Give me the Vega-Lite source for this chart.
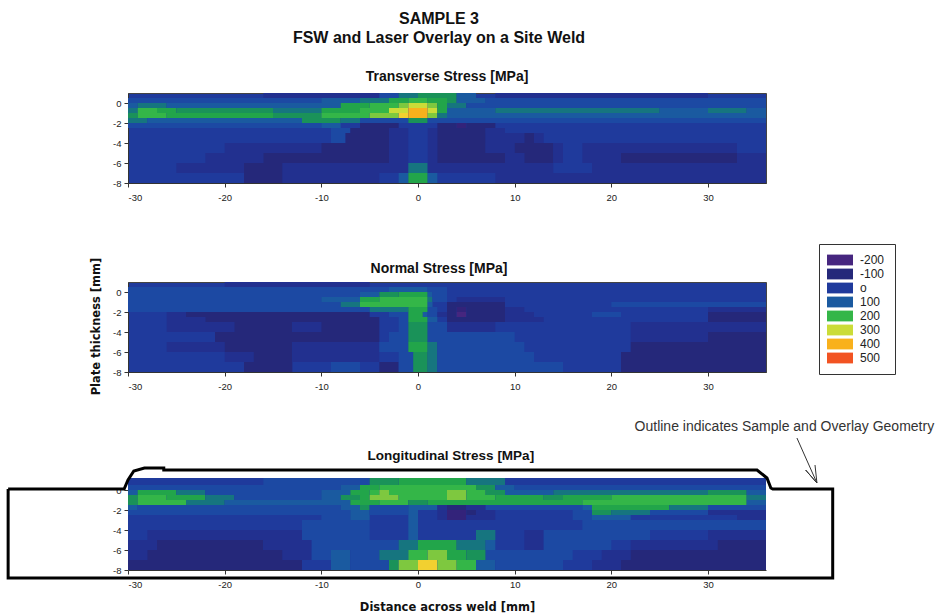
{"$schema":"https://vega.github.io/schema/vega-lite/v6.json","background":"white","padding":{"left":2,"top":10,"right":0,"bottom":30},"title":{"text":["SAMPLE 3","FSW and Laser Overlay on a Site Weld"],"font":"Liberation Sans","fontSize":16,"fontWeight":"bold","color":"#111","anchor":"middle","frame":"group","dx":-8,"offset":24,"lineHeight":19},"config":{"font":"Liberation Sans","view":{"fill":"#1f3a9c","stroke":"#444"},"title":{"font":"Liberation Sans","fontSize":14,"fontWeight":"bold","color":"#111"},"axis":{"labelFont":"Liberation Sans","labelFontSize":9.5,"labelColor":"#222","tickColor":"#333","domainColor":"#333","tickSize":4,"grid":false,"labelPadding":5,"labelOverlap":false,"labelExpr":"'' + datum.value"}},"resolve":{"scale":{"color":"independent"}},"bounds":"flush","spacing":99,"vconcat":[{"width":638,"height":90,"title":{"text":"Transverse Stress [MPa]","offset":9},"data":{"values":[{"x0":-16,"x1":-4,"y0":0.5,"y1":1,"v":-50},{"x0":-4,"x1":-2,"y0":0.5,"y1":1,"v":50},{"x0":-2,"x1":0,"y0":0.5,"y1":1,"v":125},{"x0":0,"x1":4,"y0":0.5,"y1":1,"v":150},{"x0":4,"x1":6,"y0":0.5,"y1":1,"v":100},{"x0":8,"x1":30,"y0":0.5,"y1":1,"v":-50},{"x0":-30,"x1":-10,"y0":0,"y1":0.5,"v":50},{"x0":-10,"x1":-6,"y0":0,"y1":0.5,"v":100},{"x0":-6,"x1":-3,"y0":0,"y1":0.5,"v":125},{"x0":-3,"x1":-1,"y0":0,"y1":0.5,"v":175},{"x0":-1,"x1":1,"y0":0,"y1":0.5,"v":200},{"x0":1,"x1":3,"y0":0,"y1":0.5,"v":175},{"x0":3,"x1":4,"y0":0,"y1":0.5,"v":150},{"x0":4,"x1":7,"y0":0,"y1":0.5,"v":100},{"x0":7,"x1":36,"y0":0,"y1":0.5,"v":50},{"x0":-30,"x1":-29,"y0":-0.5,"y1":0,"v":100},{"x0":-29,"x1":-26,"y0":-0.5,"y1":0,"v":125},{"x0":-26,"x1":-8,"y0":-0.5,"y1":0,"v":100},{"x0":-8,"x1":-5,"y0":-0.5,"y1":0,"v":175},{"x0":-5,"x1":-2,"y0":-0.5,"y1":0,"v":200},{"x0":-2,"x1":-1,"y0":-0.5,"y1":0,"v":250},{"x0":-1,"x1":1,"y0":-0.5,"y1":0,"v":300},{"x0":1,"x1":2,"y0":-0.5,"y1":0,"v":250},{"x0":2,"x1":3,"y0":-0.5,"y1":0,"v":175},{"x0":3,"x1":5,"y0":-0.5,"y1":0,"v":125},{"x0":5,"x1":36,"y0":-0.5,"y1":0,"v":50},{"x0":-30,"x1":-29,"y0":-1,"y1":-0.5,"v":125},{"x0":-29,"x1":-27,"y0":-1,"y1":-0.5,"v":200},{"x0":-27,"x1":-25,"y0":-1,"y1":-0.5,"v":175},{"x0":-25,"x1":-15,"y0":-1,"y1":-0.5,"v":150},{"x0":-15,"x1":-10,"y0":-1,"y1":-0.5,"v":125},{"x0":-10,"x1":-6,"y0":-1,"y1":-0.5,"v":175},{"x0":-6,"x1":-3,"y0":-1,"y1":-0.5,"v":200},{"x0":-3,"x1":-1,"y0":-1,"y1":-0.5,"v":300},{"x0":-1,"x1":1,"y0":-1,"y1":-0.5,"v":400},{"x0":1,"x1":2,"y0":-1,"y1":-0.5,"v":300},{"x0":2,"x1":3,"y0":-1,"y1":-0.5,"v":175},{"x0":3,"x1":8,"y0":-1,"y1":-0.5,"v":100},{"x0":8,"x1":25,"y0":-1,"y1":-0.5,"v":125},{"x0":25,"x1":30,"y0":-1,"y1":-0.5,"v":100},{"x0":30,"x1":34,"y0":-1,"y1":-0.5,"v":125},{"x0":34,"x1":36,"y0":-1,"y1":-0.5,"v":100},{"x0":-30,"x1":-29,"y0":-1.5,"y1":-1,"v":150},{"x0":-29,"x1":-26,"y0":-1.5,"y1":-1,"v":200},{"x0":-26,"x1":-15,"y0":-1.5,"y1":-1,"v":175},{"x0":-15,"x1":-10,"y0":-1.5,"y1":-1,"v":150},{"x0":-10,"x1":-5,"y0":-1.5,"y1":-1,"v":200},{"x0":-5,"x1":-2,"y0":-1.5,"y1":-1,"v":250},{"x0":-2,"x1":-1,"y0":-1.5,"y1":-1,"v":350},{"x0":-1,"x1":1,"y0":-1.5,"y1":-1,"v":400},{"x0":1,"x1":2,"y0":-1.5,"y1":-1,"v":250},{"x0":2,"x1":3,"y0":-1.5,"y1":-1,"v":125},{"x0":3,"x1":36,"y0":-1.5,"y1":-1,"v":100},{"x0":-30,"x1":-28,"y0":-2,"y1":-1.5,"v":125},{"x0":-28,"x1":-12,"y0":-2,"y1":-1.5,"v":100},{"x0":-12,"x1":-8,"y0":-2,"y1":-1.5,"v":150},{"x0":-8,"x1":-6,"y0":-2,"y1":-1.5,"v":125},{"x0":-6,"x1":-1,"y0":-2,"y1":-1.5,"v":50},{"x0":-1,"x1":1,"y0":-2,"y1":-1.5,"v":150},{"x0":1,"x1":36,"y0":-2,"y1":-1.5,"v":50},{"x0":-30,"x1":-10,"y0":-2.5,"y1":-2,"v":50},{"x0":-10,"x1":-8,"y0":-2.5,"y1":-2,"v":100},{"x0":-6,"x1":-2,"y0":-2.5,"y1":-2,"v":-100},{"x0":2,"x1":4,"y0":-2.5,"y1":-2,"v":-100},{"x0":4,"x1":5,"y0":-2.5,"y1":-2,"v":-150},{"x0":5,"x1":8,"y0":-2.5,"y1":-2,"v":-100},{"x0":-9,"x1":-7,"y0":-3,"y1":-2.5,"v":50},{"x0":-7,"x1":-3,"y0":-3,"y1":-2.5,"v":-100},{"x0":-3,"x1":-1,"y0":-3,"y1":-2.5,"v":-50},{"x0":1,"x1":2,"y0":-3,"y1":-2.5,"v":-50},{"x0":2,"x1":7,"y0":-3,"y1":-2.5,"v":-100},{"x0":7,"x1":9,"y0":-3,"y1":-2.5,"v":-50},{"x0":-9,"x1":-7.5,"y0":-4,"y1":-3,"v":50},{"x0":-7.5,"x1":-3,"y0":-4,"y1":-3,"v":-100},{"x0":-3,"x1":-1,"y0":-4,"y1":-3,"v":-50},{"x0":1,"x1":2,"y0":-4,"y1":-3,"v":-50},{"x0":2,"x1":7,"y0":-4,"y1":-3,"v":-100},{"x0":7,"x1":11,"y0":-4,"y1":-3,"v":-50},{"x0":11,"x1":12,"y0":-4,"y1":-3,"v":-100},{"x0":12,"x1":13,"y0":-4,"y1":-3,"v":-50},{"x0":-20,"x1":-10,"y0":-5,"y1":-4,"v":-50},{"x0":-10,"x1":-3,"y0":-5,"y1":-4,"v":-100},{"x0":-3,"x1":-1,"y0":-5,"y1":-4,"v":-50},{"x0":1,"x1":2,"y0":-5,"y1":-4,"v":-50},{"x0":2,"x1":7,"y0":-5,"y1":-4,"v":-100},{"x0":7,"x1":10,"y0":-5,"y1":-4,"v":-50},{"x0":10,"x1":14,"y0":-5,"y1":-4,"v":-100},{"x0":14,"x1":15,"y0":-5,"y1":-4,"v":-50},{"x0":17,"x1":33,"y0":-5,"y1":-4,"v":-50},{"x0":-22,"x1":-16,"y0":-6,"y1":-5,"v":-50},{"x0":-16,"x1":-3,"y0":-6,"y1":-5,"v":-100},{"x0":-3,"x1":-1,"y0":-6,"y1":-5,"v":-50},{"x0":1,"x1":2,"y0":-6,"y1":-5,"v":-50},{"x0":2,"x1":9,"y0":-6,"y1":-5,"v":-100},{"x0":9,"x1":11,"y0":-6,"y1":-5,"v":-50},{"x0":11,"x1":14,"y0":-6,"y1":-5,"v":-100},{"x0":14,"x1":15,"y0":-6,"y1":-5,"v":-50},{"x0":17,"x1":21,"y0":-6,"y1":-5,"v":-50},{"x0":21,"x1":33,"y0":-6,"y1":-5,"v":-100},{"x0":33,"x1":36,"y0":-6,"y1":-5,"v":-50},{"x0":-25,"x1":-18,"y0":-7,"y1":-6,"v":-50},{"x0":-18,"x1":-14,"y0":-7,"y1":-6,"v":-100},{"x0":-14,"x1":-1,"y0":-7,"y1":-6,"v":-50},{"x0":-1,"x1":1,"y0":-7,"y1":-6,"v":125},{"x0":1,"x1":14,"y0":-7,"y1":-6,"v":-50},{"x0":18,"x1":36,"y0":-7,"y1":-6,"v":-50},{"x0":-18,"x1":-14,"y0":-8,"y1":-7,"v":-100},{"x0":-14,"x1":-4,"y0":-8,"y1":-7,"v":-50},{"x0":-2,"x1":-1,"y0":-8,"y1":-7,"v":100},{"x0":-1,"x1":1,"y0":-8,"y1":-7,"v":175},{"x0":1,"x1":2,"y0":-8,"y1":-7,"v":100},{"x0":8,"x1":36,"y0":-8,"y1":-7,"v":-50}]},"mark":{"type":"rect"},"encoding":{"x":{"field":"x0","type":"quantitative","title":null,"scale":{"domain":[-30,36],"nice":false},"axis":{"values":[-30,-20,-10,0,10,20,30]}},"x2":{"field":"x1"},"y":{"field":"y0","type":"quantitative","title":null,"scale":{"domain":[-8,1],"nice":false,"zero":false},"axis":{"values":[0,-2,-4,-6,-8],"labelPadding":3}},"y2":{"field":"y1"},"color":{"field":"v","type":"ordinal","legend":null,"scale":{"domain":[-200,-150,-100,-50,0,50,100,125,150,175,200,250,300,350,400,500],"range":["#46267f","#33237a","#25287a","#22308f","#1f3a9c","#1c49a3","#1a5aa0","#16757f","#1a9259","#22a54a","#34b648","#7ec83f","#cbdc38","#f2d030","#f9b11c","#f25322"]}}}},{"width":638,"height":90,"title":{"text":"Normal Stress [MPa]","dx":-8,"offset":-32},"data":{"values":[{"x0":-20,"x1":-5,"y0":0.5,"y1":1,"v":-50},{"x0":-30,"x1":-3,"y0":0,"y1":0.5,"v":50},{"x0":-3,"x1":1,"y0":0,"y1":0.5,"v":100},{"x0":1,"x1":3,"y0":0,"y1":0.5,"v":50},{"x0":-30,"x1":-6,"y0":-0.5,"y1":0,"v":50},{"x0":-6,"x1":-4,"y0":-0.5,"y1":0,"v":100},{"x0":-4,"x1":-2,"y0":-0.5,"y1":0,"v":150},{"x0":-2,"x1":1,"y0":-0.5,"y1":0,"v":175},{"x0":1,"x1":1.5,"y0":-0.5,"y1":0,"v":100},{"x0":1.5,"x1":3,"y0":-0.5,"y1":0,"v":50},{"x0":-30,"x1":-10,"y0":-1,"y1":-0.5,"v":50},{"x0":-10,"x1":-6,"y0":-1,"y1":-0.5,"v":100},{"x0":-6,"x1":-4,"y0":-1,"y1":-0.5,"v":175},{"x0":-4,"x1":1,"y0":-1,"y1":-0.5,"v":200},{"x0":1,"x1":1.5,"y0":-1,"y1":-0.5,"v":125},{"x0":1.5,"x1":3,"y0":-1,"y1":-0.5,"v":50},{"x0":4,"x1":9,"y0":-1,"y1":-0.5,"v":-50},{"x0":-30,"x1":-8,"y0":-1.5,"y1":-1,"v":50},{"x0":-8,"x1":-6,"y0":-1.5,"y1":-1,"v":125},{"x0":-6,"x1":1,"y0":-1.5,"y1":-1,"v":200},{"x0":1,"x1":1.5,"y0":-1.5,"y1":-1,"v":100},{"x0":3,"x1":9,"y0":-1.5,"y1":-1,"v":-100},{"x0":20,"x1":36,"y0":-1.5,"y1":-1,"v":50},{"x0":-30,"x1":-5,"y0":-2,"y1":-1.5,"v":50},{"x0":-5,"x1":-1,"y0":-2,"y1":-1.5,"v":125},{"x0":-1,"x1":1,"y0":-2,"y1":-1.5,"v":175},{"x0":1,"x1":2,"y0":-2,"y1":-1.5,"v":50},{"x0":3,"x1":4,"y0":-2,"y1":-1.5,"v":-100},{"x0":4,"x1":5,"y0":-2,"y1":-1.5,"v":-150},{"x0":5,"x1":9,"y0":-2,"y1":-1.5,"v":-100},{"x0":9,"x1":11,"y0":-2,"y1":-1.5,"v":-50},{"x0":30,"x1":36,"y0":-2,"y1":-1.5,"v":-50},{"x0":-26,"x1":-24,"y0":-2.5,"y1":-2,"v":-50},{"x0":-24,"x1":-5,"y0":-2.5,"y1":-2,"v":-100},{"x0":-3,"x1":-1,"y0":-2.5,"y1":-2,"v":50},{"x0":-1,"x1":0.5,"y0":-2.5,"y1":-2,"v":175},{"x0":0.5,"x1":1,"y0":-2.5,"y1":-2,"v":100},{"x0":1,"x1":2,"y0":-2.5,"y1":-2,"v":50},{"x0":2,"x1":3,"y0":-2.5,"y1":-2,"v":-50},{"x0":3,"x1":4,"y0":-2.5,"y1":-2,"v":-100},{"x0":4,"x1":5,"y0":-2.5,"y1":-2,"v":-200},{"x0":5,"x1":9,"y0":-2.5,"y1":-2,"v":-100},{"x0":9,"x1":12,"y0":-2.5,"y1":-2,"v":-50},{"x0":18,"x1":21,"y0":-2.5,"y1":-2,"v":50},{"x0":30,"x1":36,"y0":-2.5,"y1":-2,"v":-100},{"x0":-26,"x1":-22,"y0":-3,"y1":-2.5,"v":-50},{"x0":-22,"x1":-4,"y0":-3,"y1":-2.5,"v":-100},{"x0":-2,"x1":-1,"y0":-3,"y1":-2.5,"v":50},{"x0":-1,"x1":1,"y0":-3,"y1":-2.5,"v":175},{"x0":1,"x1":2,"y0":-3,"y1":-2.5,"v":100},{"x0":3,"x1":9,"y0":-3,"y1":-2.5,"v":-100},{"x0":9,"x1":13,"y0":-3,"y1":-2.5,"v":-50},{"x0":30,"x1":36,"y0":-3,"y1":-2.5,"v":-100},{"x0":-26,"x1":-19,"y0":-4,"y1":-3,"v":-50},{"x0":-19,"x1":-13,"y0":-4,"y1":-3,"v":-100},{"x0":-13,"x1":-10,"y0":-4,"y1":-3,"v":-50},{"x0":-10,"x1":-4,"y0":-4,"y1":-3,"v":-100},{"x0":-2,"x1":-1,"y0":-4,"y1":-3,"v":50},{"x0":-1,"x1":1,"y0":-4,"y1":-3,"v":150},{"x0":1,"x1":3,"y0":-4,"y1":-3,"v":50},{"x0":3,"x1":8,"y0":-4,"y1":-3,"v":-50},{"x0":22,"x1":36,"y0":-4,"y1":-3,"v":-50},{"x0":-21,"x1":-4,"y0":-5,"y1":-4,"v":-100},{"x0":-3,"x1":-1,"y0":-5,"y1":-4,"v":50},{"x0":-1,"x1":1,"y0":-5,"y1":-4,"v":150},{"x0":1,"x1":10,"y0":-5,"y1":-4,"v":50},{"x0":22,"x1":30,"y0":-5,"y1":-4,"v":-50},{"x0":30,"x1":36,"y0":-5,"y1":-4,"v":-100},{"x0":-26,"x1":-20,"y0":-6,"y1":-5,"v":-50},{"x0":-20,"x1":-13,"y0":-6,"y1":-5,"v":-100},{"x0":-13,"x1":-4,"y0":-6,"y1":-5,"v":-50},{"x0":-4,"x1":-1,"y0":-6,"y1":-5,"v":50},{"x0":-1,"x1":1,"y0":-6,"y1":-5,"v":175},{"x0":1,"x1":2,"y0":-6,"y1":-5,"v":125},{"x0":2,"x1":11,"y0":-6,"y1":-5,"v":50},{"x0":22,"x1":36,"y0":-6,"y1":-5,"v":-100},{"x0":-20,"x1":-17,"y0":-7,"y1":-6,"v":-50},{"x0":-17,"x1":-13,"y0":-7,"y1":-6,"v":-100},{"x0":-13,"x1":-4,"y0":-7,"y1":-6,"v":-50},{"x0":-2,"x1":-0.5,"y0":-7,"y1":-6,"v":50},{"x0":-0.5,"x1":1,"y0":-7,"y1":-6,"v":150},{"x0":1,"x1":2,"y0":-7,"y1":-6,"v":125},{"x0":2,"x1":12,"y0":-7,"y1":-6,"v":50},{"x0":21,"x1":36,"y0":-7,"y1":-6,"v":-100},{"x0":-18,"x1":-13,"y0":-8,"y1":-7,"v":-100},{"x0":-9,"x1":-6,"y0":-8,"y1":-7,"v":50},{"x0":-4,"x1":-2,"y0":-8,"y1":-7,"v":-100},{"x0":-2,"x1":-0.5,"y0":-8,"y1":-7,"v":50},{"x0":-0.5,"x1":1,"y0":-8,"y1":-7,"v":150},{"x0":1,"x1":2,"y0":-8,"y1":-7,"v":125},{"x0":2,"x1":15,"y0":-8,"y1":-7,"v":50},{"x0":21,"x1":36,"y0":-8,"y1":-7,"v":-100}]},"mark":{"type":"rect"},"encoding":{"x":{"field":"x0","type":"quantitative","title":null,"scale":{"domain":[-30,36],"nice":false},"axis":{"values":[-30,-20,-10,0,10,20,30]}},"x2":{"field":"x1"},"y":{"field":"y0","type":"quantitative","scale":{"domain":[-8,1],"nice":false,"zero":false},"axis":{"values":[0,-2,-4,-6,-8],"labelPadding":3,"title":"Plate thickness [mm]","titleFont":"DejaVu Sans","titleFontSize":11.5,"titleFontWeight":"bold","titleColor":"#111","titleX":-27,"titleY":44}},"y2":{"field":"y1"},"color":{"field":"v","type":"ordinal","scale":{"domain":[-200,-150,-100,-50,0,50,100,125,150,175,200,250,300,350,400,500],"range":["#46267f","#33237a","#25287a","#22308f","#1f3a9c","#1c49a3","#1a5aa0","#16757f","#1a9259","#22a54a","#34b648","#7ec83f","#cbdc38","#f2d030","#f9b11c","#f25322"]},"legend":{"title":null,"orient":"none","legendX":691,"legendY":-38,"values":[-200,-100,0,100,200,300,400,500],"labelExpr":"datum.value === 0 ? 'o' : datum.label","symbolType":"M-1.33,-0.9H3V0.9H-1.33Z","symbolSize":144,"symbolStrokeWidth":0,"labelOffset":19,"labelFontSize":12,"labelFont":"Liberation Sans","labelColor":"#222","padding":10,"rowPadding":2,"strokeColor":"#333","fillColor":"white"}}}},{"width":638,"height":99,"view":{"fill":null,"stroke":null},"layer":[{"data":{"values":[{"x0":-30,"x1":36,"y0":-8,"y1":1.2,"v":0},{"x0":-16,"x1":-5,"y0":0.5,"y1":1.2,"v":50},{"x0":-5,"x1":-2,"y0":0.5,"y1":1.2,"v":150},{"x0":-2,"x1":5,"y0":0.5,"y1":1.2,"v":175},{"x0":5,"x1":9,"y0":0.5,"y1":1.2,"v":125},{"x0":-30,"x1":-8,"y0":0,"y1":0.5,"v":50},{"x0":-8,"x1":-6,"y0":0,"y1":0.5,"v":100},{"x0":-6,"x1":-4,"y0":0,"y1":0.5,"v":175},{"x0":-4,"x1":6,"y0":0,"y1":0.5,"v":200},{"x0":6,"x1":8,"y0":0,"y1":0.5,"v":150},{"x0":8,"x1":10,"y0":0,"y1":0.5,"v":100},{"x0":10,"x1":36,"y0":0,"y1":0.5,"v":50},{"x0":-30,"x1":-29,"y0":-0.5,"y1":0,"v":100},{"x0":-29,"x1":-25,"y0":-0.5,"y1":0,"v":175},{"x0":-25,"x1":-22,"y0":-0.5,"y1":0,"v":125},{"x0":-22,"x1":-10,"y0":-0.5,"y1":0,"v":50},{"x0":-10,"x1":-7,"y0":-0.5,"y1":0,"v":100},{"x0":-7,"x1":-5,"y0":-0.5,"y1":0,"v":175},{"x0":-5,"x1":-4,"y0":-0.5,"y1":0,"v":200},{"x0":-4,"x1":-3,"y0":-0.5,"y1":0,"v":250},{"x0":-3,"x1":3,"y0":-0.5,"y1":0,"v":200},{"x0":3,"x1":5,"y0":-0.5,"y1":0,"v":250},{"x0":5,"x1":7,"y0":-0.5,"y1":0,"v":200},{"x0":7,"x1":9,"y0":-0.5,"y1":0,"v":150},{"x0":9,"x1":14,"y0":-0.5,"y1":0,"v":100},{"x0":14,"x1":30,"y0":-0.5,"y1":0,"v":125},{"x0":30,"x1":34,"y0":-0.5,"y1":0,"v":150},{"x0":34,"x1":36,"y0":-0.5,"y1":0,"v":100},{"x0":-30,"x1":-29,"y0":-1,"y1":-0.5,"v":150},{"x0":-29,"x1":-26,"y0":-1,"y1":-0.5,"v":200},{"x0":-26,"x1":-22,"y0":-1,"y1":-0.5,"v":175},{"x0":-22,"x1":-19,"y0":-1,"y1":-0.5,"v":125},{"x0":-19,"x1":-10,"y0":-1,"y1":-0.5,"v":50},{"x0":-10,"x1":-8,"y0":-1,"y1":-0.5,"v":100},{"x0":-8,"x1":-6,"y0":-1,"y1":-0.5,"v":150},{"x0":-6,"x1":-5,"y0":-1,"y1":-0.5,"v":175},{"x0":-5,"x1":-2,"y0":-1,"y1":-0.5,"v":250},{"x0":-2,"x1":3,"y0":-1,"y1":-0.5,"v":200},{"x0":3,"x1":5,"y0":-1,"y1":-0.5,"v":250},{"x0":5,"x1":8,"y0":-1,"y1":-0.5,"v":200},{"x0":8,"x1":13,"y0":-1,"y1":-0.5,"v":175},{"x0":13,"x1":15,"y0":-1,"y1":-0.5,"v":150},{"x0":15,"x1":20,"y0":-1,"y1":-0.5,"v":175},{"x0":20,"x1":34,"y0":-1,"y1":-0.5,"v":200},{"x0":34,"x1":36,"y0":-1,"y1":-0.5,"v":125},{"x0":-30,"x1":-29,"y0":-1.5,"y1":-1,"v":150},{"x0":-29,"x1":-24,"y0":-1.5,"y1":-1,"v":200},{"x0":-24,"x1":-20,"y0":-1.5,"y1":-1,"v":125},{"x0":-20,"x1":-7,"y0":-1.5,"y1":-1,"v":100},{"x0":-7,"x1":-4,"y0":-1.5,"y1":-1,"v":175},{"x0":-4,"x1":-1,"y0":-1.5,"y1":-1,"v":200},{"x0":-1,"x1":1,"y0":-1.5,"y1":-1,"v":150},{"x0":1,"x1":17,"y0":-1.5,"y1":-1,"v":175},{"x0":17,"x1":34,"y0":-1.5,"y1":-1,"v":200},{"x0":34,"x1":36,"y0":-1.5,"y1":-1,"v":100},{"x0":-30,"x1":-29,"y0":-2,"y1":-1.5,"v":100},{"x0":-29,"x1":-8,"y0":-2,"y1":-1.5,"v":50},{"x0":-8,"x1":-6,"y0":-2,"y1":-1.5,"v":100},{"x0":-6,"x1":-5,"y0":-2,"y1":-1.5,"v":150},{"x0":-5,"x1":-1,"y0":-2,"y1":-1.5,"v":50},{"x0":-1,"x1":2,"y0":-2,"y1":-1.5,"v":100},{"x0":2,"x1":3,"y0":-2,"y1":-1.5,"v":-50},{"x0":3,"x1":5,"y0":-2,"y1":-1.5,"v":-100},{"x0":5,"x1":7,"y0":-2,"y1":-1.5,"v":-50},{"x0":7,"x1":17,"y0":-2,"y1":-1.5,"v":50},{"x0":17,"x1":18,"y0":-2,"y1":-1.5,"v":100},{"x0":18,"x1":26,"y0":-2,"y1":-1.5,"v":175},{"x0":26,"x1":30,"y0":-2,"y1":-1.5,"v":125},{"x0":30,"x1":36,"y0":-2,"y1":-1.5,"v":50},{"x0":-30,"x1":-7,"y0":-2.5,"y1":-2,"v":50},{"x0":-7,"x1":-5,"y0":-2.5,"y1":-2,"v":100},{"x0":-5,"x1":-1,"y0":-2.5,"y1":-2,"v":50},{"x0":-1,"x1":0,"y0":-2.5,"y1":-2,"v":100},{"x0":2,"x1":3,"y0":-2.5,"y1":-2,"v":-50},{"x0":3,"x1":5,"y0":-2.5,"y1":-2,"v":-150},{"x0":5,"x1":6,"y0":-2.5,"y1":-2,"v":-100},{"x0":6,"x1":8,"y0":-2.5,"y1":-2,"v":-50},{"x0":16,"x1":18,"y0":-2.5,"y1":-2,"v":50},{"x0":18,"x1":20,"y0":-2.5,"y1":-2,"v":150},{"x0":20,"x1":24,"y0":-2.5,"y1":-2,"v":125},{"x0":24,"x1":30,"y0":-2.5,"y1":-2,"v":50},{"x0":30,"x1":36,"y0":-2.5,"y1":-2,"v":-50},{"x0":-10,"x1":-7,"y0":-3,"y1":-2.5,"v":50},{"x0":-7,"x1":-5,"y0":-3,"y1":-2.5,"v":100},{"x0":-1,"x1":0,"y0":-3,"y1":-2.5,"v":100},{"x0":2,"x1":3,"y0":-3,"y1":-2.5,"v":-50},{"x0":3,"x1":5,"y0":-3,"y1":-2.5,"v":-150},{"x0":5,"x1":8,"y0":-3,"y1":-2.5,"v":-50},{"x0":16,"x1":18,"y0":-3,"y1":-2.5,"v":50},{"x0":18,"x1":22,"y0":-3,"y1":-2.5,"v":100},{"x0":33,"x1":36,"y0":-3,"y1":-2.5,"v":-50},{"x0":-12,"x1":-5,"y0":-4,"y1":-3,"v":50},{"x0":-1,"x1":0,"y0":-4,"y1":-3,"v":100},{"x0":17,"x1":36,"y0":-4,"y1":-3,"v":50},{"x0":-28,"x1":-12,"y0":-5,"y1":-4,"v":-50},{"x0":-12,"x1":-5,"y0":-5,"y1":-4,"v":50},{"x0":-1,"x1":0,"y0":-5,"y1":-4,"v":100},{"x0":6,"x1":8,"y0":-5,"y1":-4,"v":125},{"x0":11,"x1":13,"y0":-5,"y1":-4,"v":-50},{"x0":13,"x1":24,"y0":-5,"y1":-4,"v":50},{"x0":30,"x1":36,"y0":-5,"y1":-4,"v":-50},{"x0":-30,"x1":-27,"y0":-6,"y1":-5,"v":-50},{"x0":-27,"x1":-16,"y0":-6,"y1":-5,"v":-100},{"x0":-16,"x1":-11,"y0":-6,"y1":-5,"v":-50},{"x0":-11,"x1":-2,"y0":-6,"y1":-5,"v":50},{"x0":-2,"x1":0,"y0":-6,"y1":-5,"v":125},{"x0":0,"x1":4,"y0":-6,"y1":-5,"v":175},{"x0":4,"x1":7,"y0":-6,"y1":-5,"v":125},{"x0":7,"x1":8,"y0":-6,"y1":-5,"v":100},{"x0":11,"x1":13,"y0":-6,"y1":-5,"v":-50},{"x0":13,"x1":20,"y0":-6,"y1":-5,"v":50},{"x0":22,"x1":31,"y0":-6,"y1":-5,"v":-50},{"x0":31,"x1":36,"y0":-6,"y1":-5,"v":-100},{"x0":-30,"x1":-28,"y0":-7,"y1":-6,"v":-50},{"x0":-28,"x1":-14,"y0":-7,"y1":-6,"v":-100},{"x0":-14,"x1":-11,"y0":-7,"y1":-6,"v":-50},{"x0":-11,"x1":-9,"y0":-7,"y1":-6,"v":50},{"x0":-9,"x1":-7,"y0":-7,"y1":-6,"v":100},{"x0":-7,"x1":-4,"y0":-7,"y1":-6,"v":50},{"x0":-4,"x1":-1,"y0":-7,"y1":-6,"v":125},{"x0":-1,"x1":1,"y0":-7,"y1":-6,"v":200},{"x0":1,"x1":3,"y0":-7,"y1":-6,"v":250},{"x0":3,"x1":5,"y0":-7,"y1":-6,"v":175},{"x0":5,"x1":7,"y0":-7,"y1":-6,"v":150},{"x0":7,"x1":16,"y0":-7,"y1":-6,"v":50},{"x0":19,"x1":22,"y0":-7,"y1":-6,"v":-50},{"x0":22,"x1":36,"y0":-7,"y1":-6,"v":-100},{"x0":-30,"x1":-12,"y0":-8,"y1":-7,"v":-100},{"x0":-9,"x1":-7,"y0":-8,"y1":-7,"v":100},{"x0":-7,"x1":-3,"y0":-8,"y1":-7,"v":50},{"x0":-3,"x1":-2,"y0":-8,"y1":-7,"v":150},{"x0":-2,"x1":0,"y0":-8,"y1":-7,"v":250},{"x0":0,"x1":2,"y0":-8,"y1":-7,"v":350},{"x0":2,"x1":4,"y0":-8,"y1":-7,"v":250},{"x0":4,"x1":6,"y0":-8,"y1":-7,"v":200},{"x0":6,"x1":8,"y0":-8,"y1":-7,"v":100},{"x0":8,"x1":15,"y0":-8,"y1":-7,"v":50},{"x0":18,"x1":21,"y0":-8,"y1":-7,"v":-50},{"x0":21,"x1":36,"y0":-8,"y1":-7,"v":-100}]},"mark":{"type":"rect"},"encoding":{"x":{"field":"x0","type":"quantitative","scale":{"domain":[-30,36],"nice":false},"axis":{"values":[-30,-20,-10,0,10,20,30],"title":"Distance across weld [mm]","titleFont":"DejaVu Sans","titleFontSize":11.5,"titleFontWeight":"bold","titleColor":"#111","titleX":319,"titleY":31}},"x2":{"field":"x1"},"y":{"field":"y0","type":"quantitative","title":null,"scale":{"domain":[-8,1.9],"nice":false,"zero":false},"axis":{"values":[0,-2,-4,-6,-8],"tickCount":5,"domain":false,"labelPadding":3}},"y2":{"field":"y1"},"color":{"field":"v","type":"ordinal","legend":null,"scale":{"domain":[-200,-150,-100,-50,0,50,100,125,150,175,200,250,300,350,400,500],"range":["#46267f","#33237a","#25287a","#22308f","#1f3a9c","#1c49a3","#1a5aa0","#16757f","#1a9259","#22a54a","#34b648","#7ec83f","#cbdc38","#f2d030","#f9b11c","#f25322"]}}}},{"data":{"values":[{"o":1,"px":-42.4,"py":0.1},{"o":2,"px":-30.4,"py":0.1},{"o":3,"px":-30,"py":1},{"o":4,"px":-29.4,"py":1.9},{"o":5,"px":-28.3,"py":2.2},{"o":6,"px":-26.3,"py":2.2},{"o":7,"px":-26.3,"py":2},{"o":8,"px":35.07,"py":2},{"o":9,"px":36.1,"py":1.2},{"o":10,"px":36.5,"py":0.2},{"o":11,"px":36.7,"py":0.1},{"o":12,"px":42.9,"py":0.1},{"o":13,"px":42.9,"py":-8.8},{"o":14,"px":-42.4,"py":-8.8},{"o":15,"px":-42.4,"py":0.1}]},"mark":{"type":"line","color":"black","strokeWidth":3,"clip":false},"encoding":{"x":{"field":"px","type":"quantitative"},"y":{"field":"py","type":"quantitative","axis":{"values":[0,-2,-4,-6,-8],"tickCount":5,"domain":false,"labelPadding":3}},"order":{"field":"o"}}},{"data":{"values":[{"o":1,"px":39.2,"py":5.2},{"o":2,"px":41.27,"py":0.7},{"o":3,"px":40.1,"py":2},{"o":4,"px":41.27,"py":0.7},{"o":5,"px":41.07,"py":2.5}]},"mark":{"type":"line","color":"#333","strokeWidth":1,"clip":false},"encoding":{"x":{"field":"px","type":"quantitative"},"y":{"field":"py","type":"quantitative","axis":{"values":[0,-2,-4,-6,-8],"tickCount":5,"domain":false,"labelPadding":3}},"order":{"field":"o"}}},{"data":{"values":[{"px":37.9,"py":6.3,"note":"Outline indicates Sample and Overlay Geometry"}]},"mark":{"type":"text","fontSize":14,"color":"#333","font":"Liberation Sans"},"encoding":{"x":{"field":"px","type":"quantitative"},"y":{"field":"py","type":"quantitative","axis":{"values":[0,-2,-4,-6,-8],"tickCount":5,"domain":false,"labelPadding":3}},"text":{"field":"note"}}},{"data":{"values":[{"px":3.4,"py":3.4,"note":"Longitudinal Stress [MPa]"}]},"mark":{"type":"text","fontSize":13.5,"fontWeight":"bold","color":"#111","font":"Liberation Sans"},"encoding":{"x":{"field":"px","type":"quantitative"},"y":{"field":"py","type":"quantitative","axis":{"values":[0,-2,-4,-6,-8],"tickCount":5,"domain":false,"labelPadding":3}},"text":{"field":"note"}}}]}]}
